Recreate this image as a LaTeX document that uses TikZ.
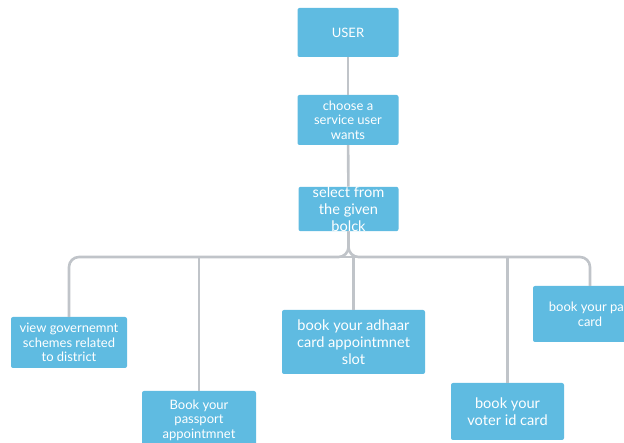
\documentclass[tikz,border=0pt]{standalone}
\usepackage{fontspec}
\setmainfont{Lato}
\usepackage{tikz}
\usetikzlibrary{positioning,calc}
\definecolor{boxblue}{RGB}{95,187,225}
\definecolor{linegray}{RGB}{192,196,201}
\tikzset{
    block/.style={fill=boxblue, text=white, rounded corners=2pt, align=center, inner sep=0pt},
    small/.style={font=\fontsize{13}{14.5}\selectfont},
    large/.style={font=\fontsize{14.6}{16.7}\selectfont},
    link/.style={draw=linegray, line width=2.6pt},
}

\begin{document}
\begin{tikzpicture}[x=1pt,y=-1pt]
    \useasboundingbox (0,0) rectangle (624,443);
    \clip (0,0) rectangle (624,443);

    % Top chain
    \node[block, small, minimum width=101pt, minimum height=49pt] (user) at (348,32.5) {USER};
    \node[block, small, minimum width=101pt, minimum height=50pt] (choose) at (348,120) {choose a\\service user\\wants};
    \node[block, large, minimum width=100pt, minimum height=44pt] (select) at (348.5,209) {select from\\the given\\bolck};

    % Services
    \node[block, small, minimum width=116pt, minimum height=51pt] (view) at (69,342.5) {view governemnt\\schemes related\\to district};
    \node[block, small, minimum width=114pt, minimum height=58pt] (passport) at (199,420) {Book your\\passport\\appointmnet};
    \node[block, large, minimum width=143pt, minimum height=64pt] (adhaar) at (353.5,342) {book your adhaar\\card appointmnet\\slot};
    \node[block, large, minimum width=113pt, minimum height=57pt] (voter) at (507.5,411.5) {book your\\voter id card};
    \node[block, font=\fontsize{13}{15}\selectfont, minimum width=114pt, minimum height=56pt] (pan) at (590,314) {book your pan\\card};

    % Connectors
    \coordinate (bus) at (348.5,257);
    \draw[link] (user) -- (choose);
    \draw[link] (choose) -- (select);
    \draw[link, rounded corners=10pt] (select.south) -- (bus) -| (view.north);
    \draw[link, rounded corners=10pt] (select.south) -- (bus) -| (pan.north);
    \draw[link] (bus) -| (passport.north);
    \draw[link] (bus) -| (adhaar.north);
    \draw[link] (bus) -| (voter.north);
\end{tikzpicture}
\end{document}
